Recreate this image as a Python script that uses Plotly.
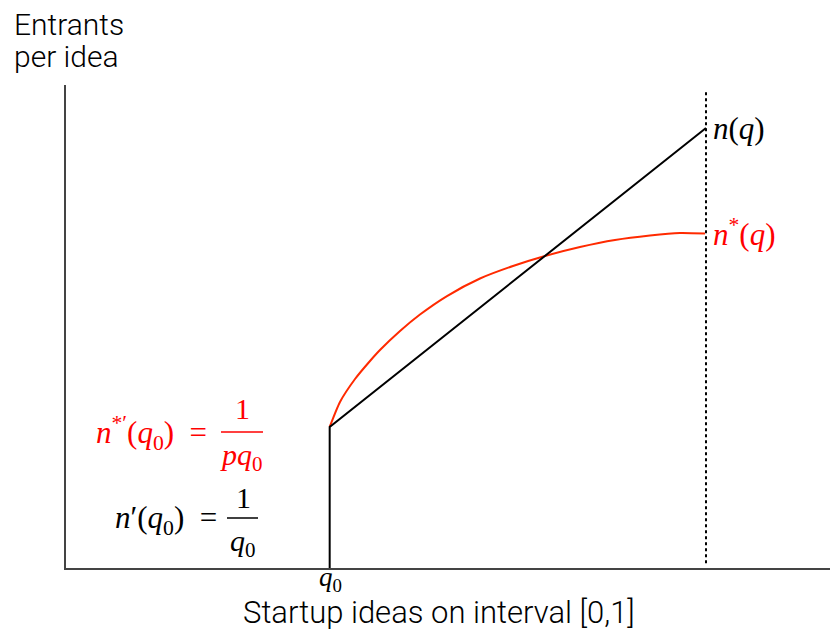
import plotly.graph_objects as go

# ---- data (x: ideas on [0,1] scale, y: entrants per idea) ----
q0 = 0.412
n_q0 = 0.292
n_1 = 0.911

black_x = [q0, q0, 1.0]
black_y = [0.0, n_q0, n_1]

red_x = [0.412, 0.4281, 0.4516, 0.4750, 0.4906, 0.5219, 0.5531, 0.5953, 0.6469,
         0.6984, 0.7484, 0.8031, 0.8578, 0.9125, 0.9594, 0.9984]
red_y = [0.292, 0.3437, 0.3913, 0.4286, 0.4513, 0.4907, 0.5248, 0.5631, 0.5994,
         0.6253, 0.6460, 0.6646, 0.6791, 0.6884, 0.6936, 0.6925]

dot_x = [1.0, 1.0]
dot_y = [0.01, 0.986]

# page offset (body margin) and figure geometry
OFF = 8
FW, FH = 838 - OFF, 637 - OFF
L, R, T, B = 66 - OFF, 0, 85 - OFF, FH - (568 - OFF)
XR = [0.0, (838 - 66) / 640.0]
YR = [0.0, 1.0]
PW, PH = FW - L - R, FH - T - B


def px2x(px):
    return (px - OFF - L) / PW


def px2y(py):
    return (FH - B - (py - OFF)) / PH


RED_LINE = "#ff2a00"
RED_TXT = "#ff0000"
SERIF = "Liberation Serif"
SANS = "Roboto"

fig = go.Figure()
fig.add_trace(go.Scatter(x=red_x, y=red_y, mode="lines",
                         line=dict(color=RED_LINE, width=2, shape="spline", smoothing=0.6),
                         hoverinfo="skip", cliponaxis=False))
fig.add_trace(go.Scatter(x=black_x, y=black_y, mode="lines",
                         line=dict(color="black", width=2),
                         hoverinfo="skip", cliponaxis=False))
fig.add_trace(go.Scatter(x=dot_x, y=dot_y, mode="lines",
                         line=dict(color="black", width=2, dash="dot"),
                         hoverinfo="skip", cliponaxis=False))

ann = []


def text(px, py, s, size, color="black", font=SERIF, xanchor="center", weight=None):
    f = dict(family=font, size=size, color=color)
    if weight:
        f["weight"] = weight
    ann.append(dict(x=px2x(px), y=px2y(py), xref="paper", yref="paper", text=s,
                    showarrow=False, xanchor=xanchor, yanchor="middle",
                    borderpad=0, font=f))


# axis titles
text(13, 25, "Entrants", 30, font=SANS, xanchor="left", weight=300)
text(13, 57, "per idea", 30, font=SANS, xanchor="left", weight=300)
text(439, 612, "Startup ideas on interval [0,1]", 31, font=SANS, weight=300)

# curve labels
text(712, 128, "<i>n</i>(<i>q</i>)", 31, xanchor="left")
text(712, 233, "<i>n</i><sup>*</sup>(<i>q</i>)", 31, color=RED_TXT, xanchor="left")
text(330, 579, "<i>q</i><sub>0</sub>", 27)

# red derivative label
text(208, 433, "<i>n</i><sup>*′</sup>(<i>q</i><sub>0</sub>)  =", 31,
     color=RED_TXT, xanchor="right")
text(242, 409, "1", 30, color=RED_TXT)
text(241, 457, "<i>pq</i><sub>0</sub>", 30, color=RED_TXT)

# black derivative label
text(218, 520, "<i>n</i>′(<i>q</i><sub>0</sub>)  =", 31, xanchor="right")
text(243, 497, "1", 30)
text(243, 543, "<i>q</i><sub>0</sub>", 30)

shapes = [
    dict(type="line", xref="paper", yref="paper", x0=px2x(221), x1=px2x(263),
         y0=px2y(432), y1=px2y(432), line=dict(color=RED_TXT, width=1.5)),
    dict(type="line", xref="paper", yref="paper", x0=px2x(227), x1=px2x(258),
         y0=px2y(518), y1=px2y(518), line=dict(color="black", width=1.5)),
]

fig.update_layout(
    width=FW, height=FH,
    margin=dict(l=L, r=R, t=T, b=B),
    paper_bgcolor="white", plot_bgcolor="white",
    showlegend=False,
    annotations=ann, shapes=shapes,
    xaxis=dict(range=XR, showgrid=False, zeroline=False, showticklabels=False,
               ticks="", showline=True, linecolor="#444", linewidth=1.5,
               fixedrange=True),
    yaxis=dict(range=YR, showgrid=False, zeroline=False, showticklabels=False,
               ticks="", showline=True, linecolor="#444", linewidth=1.5,
               fixedrange=True),
)

fig.write_html("out.html")
